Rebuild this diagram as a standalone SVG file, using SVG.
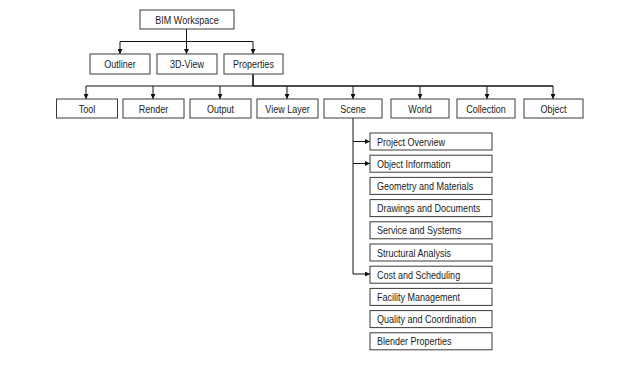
<svg xmlns="http://www.w3.org/2000/svg" width="640" height="370" viewBox="0 0 640 370">
<style>
.box{fill:#fff;stroke:#3a3a3a;stroke-width:1}
.t{font-family:"Liberation Sans",Arial,sans-serif;font-size:11px;fill:#1a1a1a;text-anchor:middle}
.c{fill:none;stroke:#111;stroke-width:1}
.ct{fill:none;stroke:#111;stroke-width:1.6}
</style>
<defs>
<marker id="ah" viewBox="0 0 10 10" refX="10" refY="5" markerWidth="5" markerHeight="5" orient="auto" markerUnits="userSpaceOnUse">
<path d="M0,0 L10,5 L0,10 z" fill="#111"/>
</marker>
</defs>
<rect width="640" height="370" fill="#fff"/>
<g id="connectors">
<path class="c" d="M186.5,29 V41.5 H120 V54" marker-end="url(#ah)"/>
<path class="c" d="M186.5,41.5 V54" marker-end="url(#ah)"/>
<path class="c" d="M186.5,41.5 H253 V54" marker-end="url(#ah)"/>
<path class="ct" d="M253,74 V86"/>
<path class="c" d="M253,86 H86 V99" marker-end="url(#ah)"/>
<path class="c" d="M153,86 V99" marker-end="url(#ah)"/>
<path class="c" d="M220,86 V99" marker-end="url(#ah)"/>
<path class="ct" d="M253,86 H553"/>
<path class="c" d="M287,86 V99" marker-end="url(#ah)"/>
<path class="c" d="M353,86 V99" marker-end="url(#ah)"/>
<path class="c" d="M420,86 V99" marker-end="url(#ah)"/>
<path class="c" d="M487,86 V99" marker-end="url(#ah)"/>
<path class="c" d="M553,86 V99" marker-end="url(#ah)"/>
<path class="c" d="M353,118 V274 H370" marker-end="url(#ah)"/>
<path class="c" d="M353,141.5 H370" marker-end="url(#ah)"/>
<path class="c" d="M353,163.5 H370" marker-end="url(#ah)"/>
</g>
<g id="n-bim"><rect class="box" x="140" y="10" width="94" height="19"/><text class="t" transform="translate(187,23.5) scale(0.82,1)">BIM Workspace</text></g>
<g id="n-outliner"><rect class="box" x="90" y="54" width="60" height="20"/><text class="t" transform="translate(120,68) scale(0.82,1)">Outliner</text></g>
<g id="n-3dview"><rect class="box" x="157" y="54" width="60" height="20"/><text class="t" transform="translate(187,68) scale(0.82,1)">3D-View</text></g>
<g id="n-properties"><rect class="box" x="224" y="54" width="59" height="20"/><text class="t" transform="translate(253.5,68) scale(0.82,1)">Properties</text></g>
<g id="n-tool"><rect class="box" x="56.5" y="99" width="61" height="19"/><text class="t" transform="translate(87,112.5) scale(0.82,1)">Tool</text></g>
<g id="n-render"><rect class="box" x="123" y="99" width="61" height="19"/><text class="t" transform="translate(153.5,112.5) scale(0.82,1)">Render</text></g>
<g id="n-output"><rect class="box" x="190" y="99" width="61" height="19"/><text class="t" transform="translate(220.5,112.5) scale(0.82,1)">Output</text></g>
<g id="n-viewlayer"><rect class="box" x="257" y="99" width="61" height="19"/><text class="t" transform="translate(287.5,112.5) scale(0.82,1)">View Layer</text></g>
<g id="n-scene"><rect class="box" x="324" y="99" width="58" height="19"/><text class="t" transform="translate(353,112.5) scale(0.82,1)">Scene</text></g>
<g id="n-world"><rect class="box" x="391" y="99" width="58" height="19"/><text class="t" transform="translate(420,112.5) scale(0.82,1)">World</text></g>
<g id="n-collection"><rect class="box" x="457" y="99" width="58" height="19"/><text class="t" transform="translate(486,112.5) scale(0.82,1)">Collection</text></g>
<g id="n-object"><rect class="box" x="524" y="99" width="59" height="19"/><text class="t" transform="translate(553.5,112.5) scale(0.82,1)">Object</text></g>
<g id="n-po"><rect class="box" x="370" y="133" width="122" height="17"/><text class="t" text-anchor="start" transform="translate(377,145.5) scale(0.82,1)" style="text-anchor:start">Project Overview</text></g>
<g id="n-oi"><rect class="box" x="370" y="155.2" width="122" height="17"/><text class="t" transform="translate(377,167.7) scale(0.82,1)" style="text-anchor:start">Object Information</text></g>
<g id="n-gm"><rect class="box" x="370" y="177.4" width="122" height="17"/><text class="t" transform="translate(377,189.9) scale(0.82,1)" style="text-anchor:start">Geometry and Materials</text></g>
<g id="n-dd"><rect class="box" x="370" y="199.6" width="122" height="17"/><text class="t" transform="translate(377,212.1) scale(0.82,1)" style="text-anchor:start">Drawings and Documents</text></g>
<g id="n-ss"><rect class="box" x="370" y="221.8" width="122" height="17"/><text class="t" transform="translate(377,234.3) scale(0.82,1)" style="text-anchor:start">Service and Systems</text></g>
<g id="n-sa"><rect class="box" x="370" y="244" width="122" height="17"/><text class="t" transform="translate(377,256.5) scale(0.82,1)" style="text-anchor:start">Structural Analysis</text></g>
<g id="n-cs"><rect class="box" x="370" y="266.2" width="122" height="17"/><text class="t" transform="translate(377,278.7) scale(0.82,1)" style="text-anchor:start">Cost and Scheduling</text></g>
<g id="n-fm"><rect class="box" x="370" y="288.4" width="122" height="17"/><text class="t" transform="translate(377,300.9) scale(0.82,1)" style="text-anchor:start">Facility Management</text></g>
<g id="n-qc"><rect class="box" x="370" y="310.6" width="122" height="17"/><text class="t" transform="translate(377,323.1) scale(0.82,1)" style="text-anchor:start">Quality and Coordination</text></g>
<g id="n-bp"><rect class="box" x="370" y="332.8" width="122" height="17"/><text class="t" transform="translate(377,345.3) scale(0.82,1)" style="text-anchor:start">Blender Properties</text></g>
</svg>
